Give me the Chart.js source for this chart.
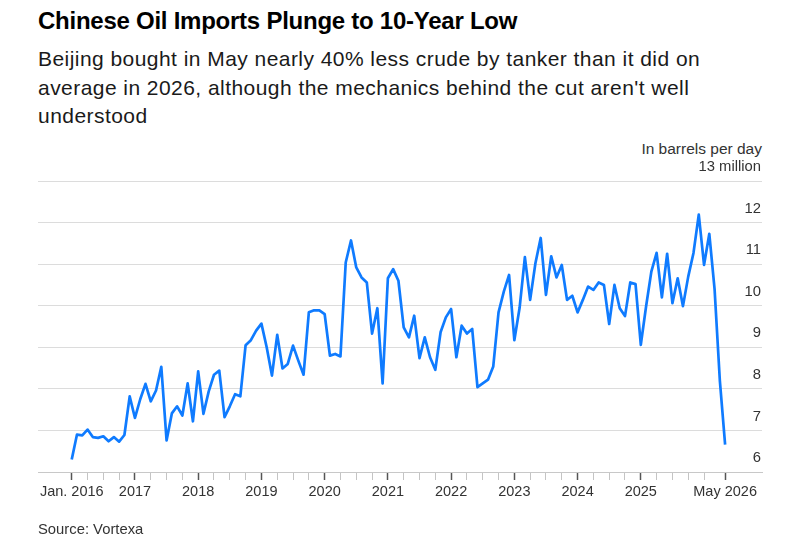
<!DOCTYPE html>
<html>
<head>
<meta charset="utf-8">
<script src="https://cdn.jsdelivr.net/npm/chart.js@4.4.1/dist/chart.umd.min.js"></script>
<style>
  html, body { margin: 0; padding: 0; background: #fff; }
  body { width: 785px; height: 552px; position: relative; overflow: hidden; font-family: "Liberation Sans", Arial, sans-serif; }
  #title { position: absolute; left: 38px; top: 7px; font-size: 24px; font-weight: bold; letter-spacing: -0.25px; color: #000; white-space: nowrap; }
  #sub { position: absolute; left: 38px; top: 45px; font-size: 21px; letter-spacing: 0.45px; line-height: 28.5px; color: #1a1a1a; white-space: nowrap; }
  #unit { position: absolute; right: 23px; top: 139px; text-align: right; font-size: 15.5px; line-height: 19px; color: #333; }
  #source { position: absolute; left: 38px; top: 521px; font-size: 14.8px; color: #333; }
  #wrap { position: absolute; left: 0; top: 0; width: 785px; height: 552px; }
</style>
</head>
<body>
<div id="title">Chinese Oil Imports Plunge to 10-Year Low</div>
<div id="sub">Beijing bought in May nearly 40% less crude by tanker than it did on<br>average in 2026, although the mechanics behind the cut aren't well<br>understood</div>
<div id="unit">In barrels per day</div>
<div id="wrap"><canvas id="chart" width="785" height="552"></canvas></div>
<div id="source">Source: Vortexa</div>
<script>
// monthly crude imports by tanker, million barrels per day, Jan 2016 .. May 2026
const imports = [
  6.30, 6.90, 6.88, 7.02, 6.84, 6.82, 6.86, 6.74, 6.84, 6.73, 6.89, 7.82,   // 2016
  7.30, 7.75, 8.12, 7.70, 7.96, 8.53, 6.76, 7.41, 7.58, 7.36, 8.13, 7.22,   // 2017
  8.42, 7.40, 7.94, 8.34, 8.44, 7.32, 7.58, 7.87, 7.82, 9.05, 9.17, 9.40,   // 2018
  9.57, 9.00, 8.32, 9.30, 8.49, 8.60, 9.04, 8.68, 8.34, 9.84, 9.89, 9.89,   // 2019
  9.80, 8.80, 8.84, 8.78, 11.04, 11.57, 10.92, 10.68, 10.56, 9.33, 9.94, 8.13, // 2020
  10.66, 10.88, 10.60, 9.48, 9.24, 9.76, 8.74, 9.24, 8.76, 8.46, 9.36, 9.72, // 2021
  9.92, 8.76, 9.52, 9.33, 9.44, 8.04, 8.13, 8.22, 8.54, 9.84, 10.34, 10.74, // 2022
  9.17, 9.95, 11.17, 10.14, 11.02, 11.63, 10.26, 11.19, 10.68, 10.98, 10.14, 10.24, // 2023
  9.84, 10.14, 10.46, 10.38, 10.56, 10.50, 9.56, 10.50, 9.94, 9.75, 10.56, 10.52, // 2024
  9.06, 9.98, 10.82, 11.27, 10.20, 11.25, 10.06, 10.66, 9.99, 10.70, 11.27, 12.19, // 2025
  10.98, 11.73, 10.40, 8.20, 6.66                                            // 2026
];

// labelled x ticks (month index from Jan 2016) and their text
const labelMonths = [0, 12, 24, 36, 48, 60, 72, 84, 96, 108, 124];
const labelTexts = ['Jan. 2016', '2017', '2018', '2019', '2020', '2021', '2022', '2023', '2024', '2025', 'May 2026'];
// quarter tick marks without text
const quarterMonths = [];
for (let m = 0; m <= 120; m += 3) quarterMonths.push(m);

const yTicks = [6, 7, 8, 9, 10, 11, 12, 13];

const FONT = '"Liberation Sans", Arial, sans-serif';

const rightLabels = {
  id: 'rightLabels',
  afterDraw(chart) {
    const y = chart.scales.y;
    const ctx = chart.ctx;
    ctx.save();
    ctx.font = '14.8px ' + FONT;
    ctx.fillStyle = '#333';
    ctx.textAlign = 'right';
    ctx.textBaseline = 'middle';
    y.ticks.forEach(t => {
      const txt = t.value === 13 ? '13 million' : String(t.value);
      ctx.fillText(txt, chart.chartArea.right - 1, y.getPixelForValue(t.value) - 14);
    });
    ctx.restore();
  }
};

new Chart(document.getElementById('chart'), {
  type: 'line',
  data: {
    datasets: [{
      data: imports.map((v, i) => ({ x: i, y: v })),
      borderColor: '#0f7bff',
      borderWidth: 2.7,
      pointRadius: 0,
      tension: 0,
      borderJoinStyle: 'round'
    }]
  },
  options: {
    responsive: false,
    animation: false,
    layout: { padding: { left: 38, right: 23, top: 181, bottom: 32 } },
    plugins: { legend: { display: false }, tooltip: { enabled: false } },
    scales: {
      x: {
        type: 'linear',
        min: -6.4,
        max: 131,
        afterBuildTicks: (s) => {
          const all = quarterMonths.concat([124]);
          s.ticks = all.map(v => ({ value: v }));
        },
        afterFit: (s) => { s.height = 48; },
        ticks: {
          autoSkip: false,
          maxRotation: 0,
          padding: 3,
          color: '#333',
          font: { family: FONT, size: 14.5 },
          callback: (v) => {
            const k = labelMonths.indexOf(v);
            return k >= 0 ? labelTexts[k] : '';
          }
        },
        grid: {
          drawOnChartArea: false,
          drawTicks: true,
          tickLength: 8,
          tickColor: (c) => labelMonths.includes(c.tick && c.tick.value) ? '#555' : '#c4c4c4',
          tickWidth: (c) => labelMonths.includes(c.tick && c.tick.value) ? 1.5 : 1
        },
        border: { display: true, color: '#c8c8c8', width: 1 }
      },
      y: {
        position: 'right',
        min: 6,
        max: 13,
        afterBuildTicks: (s) => { s.ticks = yTicks.map(v => ({ value: v })); },
        afterFit: (s) => { s.width = 0; },
        ticks: { display: false },
        grid: { color: '#dcdcdc', lineWidth: 1, drawTicks: false },
        border: { display: false }
      }
    }
  },
  plugins: [rightLabels]
});
</script>
</body>
</html>
